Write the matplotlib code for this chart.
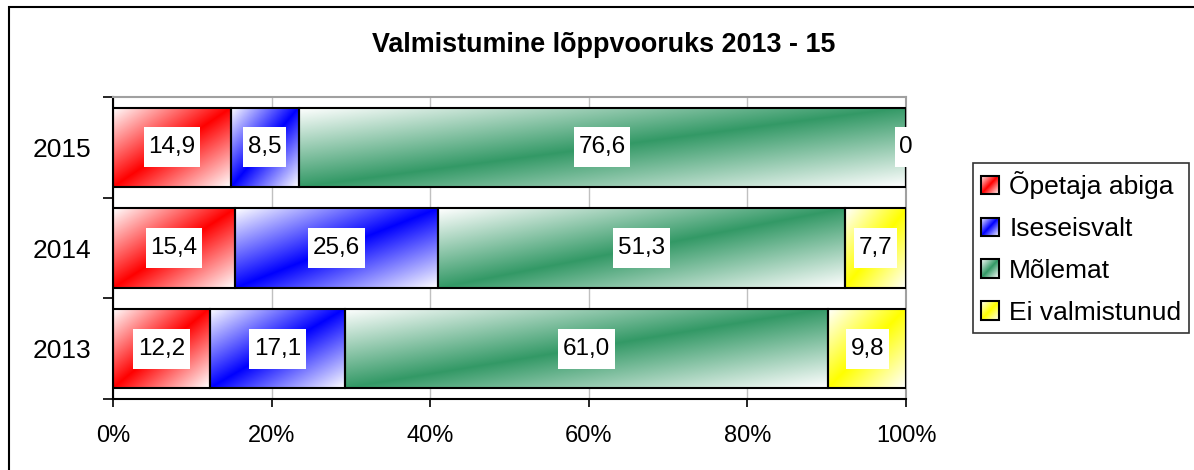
import numpy as np
import matplotlib.pyplot as plt
from matplotlib.patches import Patch, Rectangle
from matplotlib.image import BboxImage
from matplotlib.transforms import Bbox, TransformedBbox
from matplotlib.path import Path

plt.rcParams['font.family'] = ['Liberation Sans', 'DejaVu Sans']

# data
years = ['2013', '2014', '2015']
series = ['Õpetaja abiga', 'Iseseisvalt', 'Mõlemat', 'Ei valmistunud']
opetaja = [12.2, 15.4, 14.9]
iseseisvalt = [17.1, 25.6, 8.5]
molemat = [61.0, 51.3, 76.6]
ei_valm = [9.8, 7.7, 0.0]
colors = ['#ff0000', '#0000ff', '#339966', '#ffff00']


def grad(color, n=80):
    # white corners, full colour along the rising diagonal
    rgb = np.array(plt.matplotlib.colors.to_rgb(color))
    u, v = np.meshgrid(np.linspace(0, 1, n), np.linspace(0, 1, n))
    t = 1 - np.abs(u + v - 1)
    return 1 - t[..., None] * (1 - rgb)


def label_box(x0, y0, width, height, mutation_size):
    # white box, taller than it is padded sideways
    px, py = 0.19 * mutation_size, 0.37 * mutation_size
    x1, y1 = x0 + width + px, y0 + height + py
    x0, y0 = x0 - px, y0 - py
    return Path([(x0, y0), (x1, y0), (x1, y1), (x0, y1), (x0, y0)], closed=True)


class GradHandler:
    def legend_artist(self, legend, orig_handle, fontsize, handlebox):
        x0, y0 = handlebox.xdescent, handlebox.ydescent
        w, h = handlebox.width, handlebox.height
        tr = handlebox.get_transform()
        img = BboxImage(TransformedBbox(Bbox.from_bounds(-x0, -y0, w, h), tr),
                        interpolation='bilinear')
        img.set_data(grad(orig_handle.get_facecolor()))
        handlebox.add_artist(img)
        rect = Rectangle((-x0, -y0), w, h, facecolor='none', edgecolor='black',
                         lw=1.5, transform=tr)
        handlebox.add_artist(rect)
        return rect


data = np.array([opetaja, iseseisvalt, molemat, ei_valm])
pct = data / data.sum(axis=0) * 100
ypos = np.arange(len(years))

fig = plt.figure(figsize=(11.94, 4.70), dpi=100)
ax = fig.add_axes([113 / 1194, 1 - 399 / 470, (906 - 113) / 1194, (399 - 97) / 470])

left = np.zeros(len(years))
for i, name in enumerate(series):
    bars = ax.barh(ypos, pct[i], left=left, height=0.79, facecolor='none',
                   edgecolor='black', lw=1.5, zorder=3)
    for b, raw in zip(bars, data[i]):
        x, y, w, h = b.get_x(), b.get_y(), b.get_width(), b.get_height()
        if w > 0:
            im = ax.imshow(grad(colors[i]), extent=(x, x + w, y, y + h),
                           aspect='auto', interpolation='bilinear', zorder=2)
            im.set_clip_path(b)
        txt = f'{raw:.1f}'.replace('.', ',') if raw else '0'
        ax.text(x + w / 2, y + h / 2, txt,
                ha='center', va='center', fontsize=17.5, zorder=5,
                bbox=dict(boxstyle=label_box, fc='white', ec='none'))
    left += pct[i]

ax.set_xlim(0, 100)
ax.set_ylim(-0.5, len(years) - 0.5)
ax.set_xticks(np.arange(0, 101, 20))
ax.set_xticklabels([f'{v}%' for v in range(0, 101, 20)], fontsize=17)
ax.set_yticks(ypos)
ax.set_yticklabels(years, fontsize=19)
ax.set_yticks(np.arange(-0.5, len(years), 1), minor=True)
ax.tick_params(axis='y', which='major', length=0, pad=16)
ax.tick_params(axis='y', which='minor', length=7, width=1.2)
ax.tick_params(axis='x', length=6, width=1.2, pad=13)
ax.xaxis.grid(True, color='#c0c0c0', lw=1)
ax.set_axisbelow(True)
for s in ['top', 'right']:
    ax.spines[s].set_color('#a0a0a0')
    ax.spines[s].set_linewidth(1.5)
for s in ['left', 'bottom']:
    ax.spines[s].set_linewidth(1.5)

fig.text(603.5 / 1194, 1 - 45 / 470, 'Valmistumine lõppvooruks 2013 - 15',
         ha='center', va='center', fontsize=19.4, fontweight='bold')

handles = [Patch(facecolor=c) for c in colors]
leg = fig.legend(handles, series, loc='upper left',
                 bbox_to_anchor=(973 / 1194, 1 - 163 / 470), borderaxespad=0,
                 fontsize=19, handlelength=0.67, handleheight=0.68,
                 handletextpad=0.4, labelspacing=0.68, borderpad=0.3,
                 fancybox=False, framealpha=1, edgecolor='#333333',
                 handler_map={Patch: GradHandler()})
leg.get_frame().set_linewidth(1.2)

# outer chart border
fig.patches.append(Rectangle((8.5 / 1194, -0.1), 2, 1.1 - 7.5 / 470, fill=False,
                             edgecolor='black', lw=1.5, transform=fig.transFigure))

fig.savefig('out.png', dpi=100)
